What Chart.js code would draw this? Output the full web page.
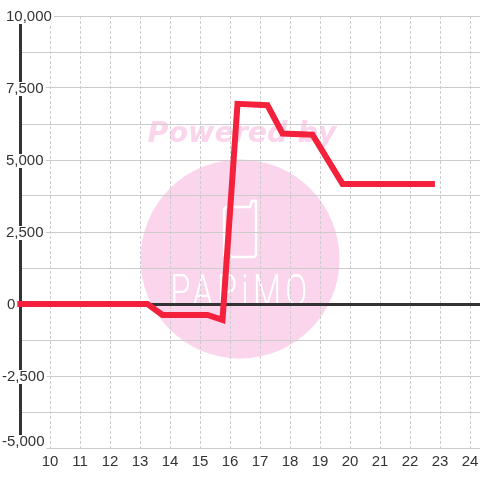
<!DOCTYPE html>
<html><head><meta charset="utf-8">
<style>html,body{margin:0;padding:0;background:#fff}canvas{display:block}</style>
<script src="https://cdn.jsdelivr.net/npm/chart.js@4/dist/chart.umd.min.js"></script>
</head><body><canvas id="c" width="480" height="480"></canvas>
<script>
const xValues = [8.9, 13.25, 13.75, 15.25, 15.75, 16.25, 17.25, 17.75, 18.75, 19.75, 22.83];
const yValues = [0, 0, -380, -380, -550, 6950, 6900, 5920, 5880, 4170, 4170];
const lineColor = '#f3213b', axisColor = '#333333', gridColor = '#cccccc', textColor = '#333333';
const fontName = '"Liberation Sans", Arial, sans-serif';

const watermark = { id:'watermark', beforeDraw(ch){
  const c = ch.ctx; c.save();
  c.fillStyle='#ffffff'; c.fillRect(0,0,480,480);
  c.fillStyle='#fbd5ec';
  c.beginPath(); c.arc(240,259,99.5,0,Math.PI*2); c.fill();
  c.font='italic bold 28.5px "DejaVu Sans"'; c.textAlign='center'; c.textBaseline='middle';
  c.fillText('Powered by',242,135);
  c.strokeStyle='#ffffff'; c.lineWidth=2.5; c.lineJoin='round';
  c.beginPath(); c.moveTo(240,207); c.lineTo(226,207); c.lineTo(224,209); c.lineTo(224,255); c.lineTo(226,257);
  c.lineTo(254,257); c.lineTo(256,255); c.lineTo(256,201); c.lineTo(252,201); c.lineTo(250,207); c.closePath(); c.stroke();
  c.save();
  c.fillStyle='#ffffff'; c.font='300 45px "Roboto"'; c.letterSpacing='6px'; c.textBaseline='alphabetic';
  c.translate(241,306); c.scale(0.72,1);
  c.fillText('PAPiMO',0,0);
  c.restore();
  c.restore();
}};
const yLabels = { id:'yLabels', afterDraw(ch){
  const c = ch.ctx, s = ch.scales.y; c.save();
  c.font='15px '+fontName; c.textBaseline='middle'; c.textAlign='left';
  s.ticks.forEach(t=>{
    if (t.value % 2500 !== 0) return;
    const txt = t.value.toLocaleString('en-US'), base = s.getPixelForValue(t.value);
    const x = t.value < 0 ? 2 : (t.value === 0 ? 7 : 6), w = c.measureText(txt).width;
    const y = t.value === -5000 ? base-6 : base+1;
    c.fillStyle='#ffffff'; c.fillRect(x-1,y-7,w+3,t.value === -5000 ? 15 : 14);
    c.fillStyle=textColor; c.fillText(txt,x,y);
  });
  c.restore();
}};
new Chart(document.getElementById('c'),{
  type:'scatter',
  data:{datasets:[{data:xValues.map((x,i)=>({x,y:yValues[i]})),showLine:true,clip:false,borderColor:lineColor,borderWidth:6,pointRadius:0,tension:0,borderJoinStyle:'miter',borderCapStyle:'butt'}]},
  plugins:[watermark,yLabels],
  options:{
    responsive:false,animation:false,
    layout:{padding:{top:16,left:0,right:0,bottom:0}},
    plugins:{legend:{display:false},tooltip:{enabled:false}},
    scales:{
      x:{type:'linear',min:9,max:24.3333,afterFit(s){s.height=32;s.paddingLeft=0;s.paddingRight=0;},
        grid:{color:gridColor,lineWidth:1,drawTicks:false},
        border:{display:false,dash:[3,2]},
        ticks:{stepSize:1,includeBounds:false,autoSkip:false,maxRotation:0,padding:5,color:textColor,font:{family:fontName,size:15},callback:v=>v<10?'':String(v)}},
      y:{type:'linear',min:-5000,max:10000,afterFit(s){s.width=20;s.paddingTop=0;s.paddingBottom=0;},
        grid:{drawTicks:false,color:ctx=>ctx.tick&&ctx.tick.value===0?axisColor:gridColor,lineWidth:ctx=>ctx.tick&&ctx.tick.value===0?3:1},
        border:{display:true,color:axisColor,width:3},
        ticks:{stepSize:1250,display:false,includeBounds:false}}
    }
  }
});
</script></body></html>
